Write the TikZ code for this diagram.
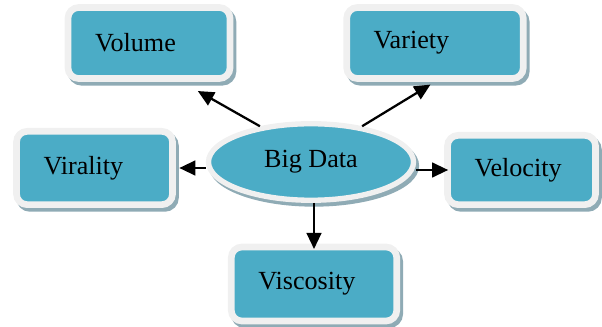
\documentclass[tikz,border=0pt]{standalone}
\usepackage{fontspec}
\setmainfont{Liberation Serif}
\usetikzlibrary{shapes.geometric,shadows,arrows.meta}
\definecolor{vteal}{HTML}{4BACC6}
\definecolor{vrim}{HTML}{F0F0F0}
\definecolor{vshade}{HTML}{8FABB5}
\tikzset{
	vshadow/.style={drop shadow={shadow xshift=2.2pt,shadow yshift=-2.8pt,fill=vshade,draw=vshade,opacity=1}},
	vbox/.style={rectangle,rounded corners=8pt,draw=vrim,line width=5pt,fill=vteal,vshadow,
		align=left,inner xsep=20.25pt,inner ysep=0pt,font=\fontsize{19.6}{23}\selectfont},
	bigdata/.style={ellipse,draw=vrim,line width=4pt,fill=vteal,vshadow,inner sep=0pt,
		minimum width=153.75pt,minimum height=57.4pt,font=\fontsize{19.6}{23}\selectfont},
	arr/.style={line width=1.7pt,-{Triangle[length=12pt,width=11pt]}}
}
\begin{document}
\begin{tikzpicture}[x=0.75pt,y=-0.75pt]
				\useasboundingbox (0,0) rectangle (602,327);
				\node[bigdata] (big) at (311,162) {Big Data};
				\node[vbox,text width=81pt,minimum height=53.25pt] (volume) at (149,43) {Volume};
				\node[vbox,text width=91.9pt,minimum height=53.25pt] (variety) at (435,43) {Variety};
				\node[vbox,text width=76.5pt,minimum height=55pt] (virality) at (94.5,168) {Virality};
				\node[vbox,text width=70.5pt,minimum height=52pt] (velocity) at (521.5,170) {Velocity};
				\node[vbox,text width=83.6pt,minimum height=55.5pt] (viscosity) at (314,284) {Viscosity};
				\draw[arr,shorten >=14pt] (big.145) -- (volume.-50);
				\draw[arr,shorten >=4pt] (big.35) -- (variety.south);
				\draw[arr,shorten >=2.6pt] (big.west |- virality) -- (virality);
				\draw[arr,shorten >=-3pt] (big.east |- velocity) -- (velocity);
				\draw[arr,shorten >=-4pt] (big.south -| viscosity) -- (viscosity);
			\end{tikzpicture}
\end{document}
